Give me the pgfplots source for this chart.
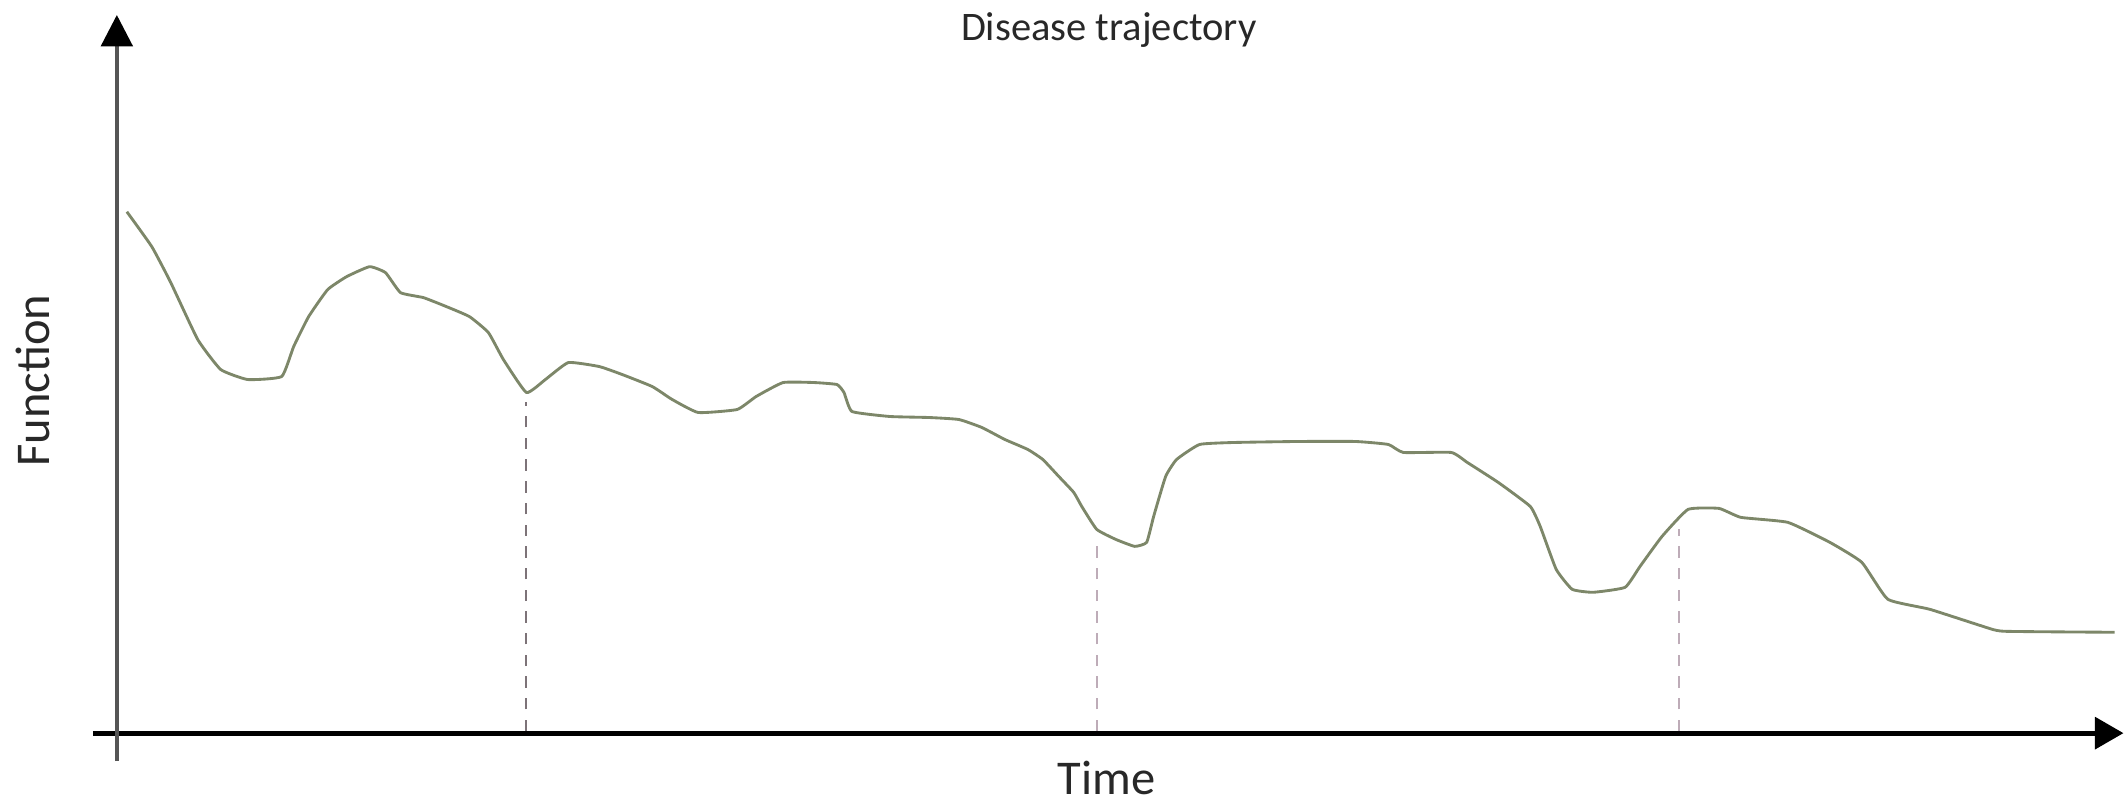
\documentclass[border=0pt]{standalone}
\usepackage{fontspec}
\setmainfont{Carlito}
\usepackage{pgfplots}
\pgfplotsset{compat=1.18}
\usetikzlibrary{arrows.meta}
\definecolor{curvecol}{RGB}{125,135,105}
\definecolor{dashA}{RGB}{125,115,120}
\definecolor{dashB}{RGB}{190,172,184}
\definecolor{yaxiscol}{RGB}{85,85,85}
\definecolor{txt}{RGB}{40,40,40}
\begin{document}
\begin{tikzpicture}
\begin{axis}[
  x=0.35pt, y=0.35pt,
  xmin=-24, xmax=2009, ymin=-28, ymax=719,
  axis lines=middle,
  xtick=\empty, ytick=\empty,
  clip=false,
  x axis line style={line width=1.75pt, black, -{Triangle[width=11pt,length=10pt,color=black]}},
  y axis line style={line width=1.4pt, yaxiscol, -{Triangle[width=11pt,length=11pt,color=black]}},
]
% dashed markers
\addplot[dashA, line width=0.75pt, dash pattern=on 4pt off 3.6pt] coordinates {(410,2) (410,332)};
\addplot[dashB, line width=0.75pt, dash pattern=on 4pt off 3.6pt] coordinates {(981,2) (981,187)};
\addplot[dashB, line width=0.75pt, dash pattern=on 4pt off 3.6pt] coordinates {(1564,2) (1564,204)};
% disease trajectory
\addplot[curvecol, line width=1pt, line join=round, smooth, tension=0.25] coordinates {
(10,522) (35,487) (54,451) (81,394) (104,364) (131,354) (165,357) (177,387)
(192,417) (211,444) (230,457) (253,467) (269,461) (284,441) (307,436) (330,427)
(353,417) (372,401) (387,374) (410,341) (429,354) (452,371) (483,367) (506,359)
(536,347) (556,334) (582,321) (621,324) (640,337) (667,351) (698,351) (721,349)
(728,341) (736,322) (774,317) (813,316) (843,314) (866,306) (889,294) (912,284)
(927,274) (943,257) (958,241) (966,227) (981,204) (1000,194) (1019,187) (1031,191)
(1038,217) (1050,257) (1061,274) (1084,289) (1119,291) (1183,292) (1240,292)
(1273,289) (1288,281) (1336,281) (1352,271) (1383,251) (1415,227) (1425,207)
(1441,164) (1457,144) (1478,141) (1510,146) (1525,167) (1547,197) (1573,224)
(1604,225) (1626,216) (1673,211) (1715,191) (1747,171) (1773,134) (1815,124)
(1868,107) (1889,102) (2000,101)
};
\node[anchor=base, inner sep=0pt, text=txt, font=\fontsize{14.2}{17}\selectfont] at (axis cs:993,693) {Disease trajectory};
\node[anchor=base, inner sep=0pt, text=txt, font=\fontsize{17}{20}\selectfont] at (axis cs:991,-61) {Time};
\node[anchor=base, inner sep=0pt, rotate=90, text=txt, font=\fontsize{17}{20}\selectfont] at (axis cs:-67,353) {Function};
\path (axis cs:-117,-69) rectangle (axis cs:2009,734);
\end{axis}
\end{tikzpicture}
\end{document}
